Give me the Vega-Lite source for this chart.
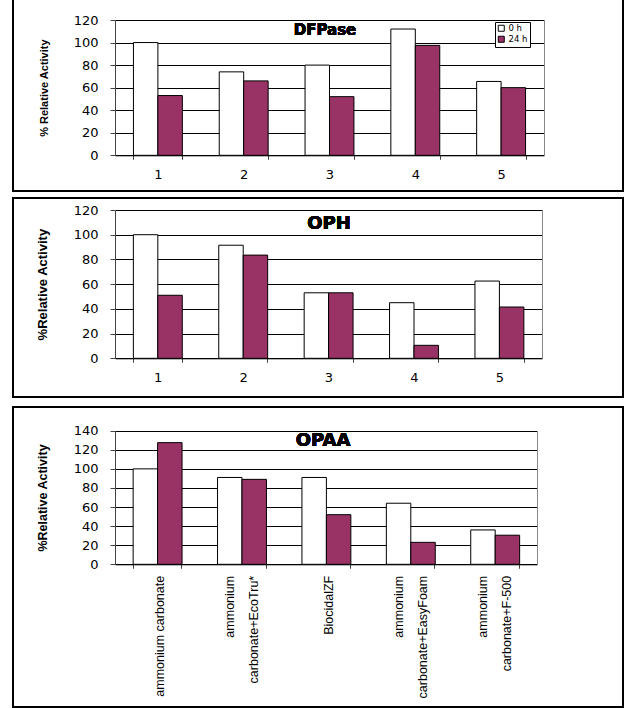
{
  "$schema": "https://vega.github.io/schema/vega-lite/v6.json",
  "padding": {"left": 6, "top": -2, "right": 0, "bottom": 0},
  "background": "white",
  "datasets": {
    "dfpase": [
      {"cat": "1", "time": "0 h", "value": 100},
      {"cat": "1", "time": "24 h", "value": 53},
      {"cat": "2", "time": "0 h", "value": 74},
      {"cat": "2", "time": "24 h", "value": 66},
      {"cat": "3", "time": "0 h", "value": 80},
      {"cat": "3", "time": "24 h", "value": 52},
      {"cat": "4", "time": "0 h", "value": 112},
      {"cat": "4", "time": "24 h", "value": 97.5},
      {"cat": "5", "time": "0 h", "value": 65.5},
      {"cat": "5", "time": "24 h", "value": 60}
    ],
    "oph": [
      {"cat": "1", "time": "0 h", "value": 100},
      {"cat": "1", "time": "24 h", "value": 51},
      {"cat": "2", "time": "0 h", "value": 91.5},
      {"cat": "2", "time": "24 h", "value": 83.5},
      {"cat": "3", "time": "0 h", "value": 53},
      {"cat": "3", "time": "24 h", "value": 53},
      {"cat": "4", "time": "0 h", "value": 45},
      {"cat": "4", "time": "24 h", "value": 10.5},
      {"cat": "5", "time": "0 h", "value": 62.5},
      {"cat": "5", "time": "24 h", "value": 41.5}
    ],
    "opaa": [
      {"cat": "ammonium carbonate", "time": "0 h", "value": 100},
      {"cat": "ammonium carbonate", "time": "24 h", "value": 127.5},
      {"cat": "ammonium carbonate+EcoTru*", "time": "0 h", "value": 91},
      {"cat": "ammonium carbonate+EcoTru*", "time": "24 h", "value": 89},
      {"cat": "BiocidalZF", "time": "0 h", "value": 91},
      {"cat": "BiocidalZF", "time": "24 h", "value": 52},
      {"cat": "ammonium carbonate+EasyFoam", "time": "0 h", "value": 64},
      {"cat": "ammonium carbonate+EasyFoam", "time": "24 h", "value": 23},
      {"cat": "ammonium carbonate+F-500", "time": "0 h", "value": 36},
      {"cat": "ammonium carbonate+F-500", "time": "24 h", "value": 30.5}
    ]
  },
  "spacing": 8,
  "vconcat": [
    {
      "spacing": 5,
      "vconcat": [
        {
          "width": 610,
          "height": 192,
          "data": {"name": "dfpase"},
          "resolve": {"axis": {"y": "independent"}},
          "layer": [
            {
              "mark": {"type": "bar", "stroke": "black", "strokeWidth": 1},
              "encoding": {
                "x": {
                  "field": "cat", "type": "nominal", "sort": null,
                  "scale": {"range": [102, 531], "paddingInner": 0.43, "paddingOuter": 0.215},
                  "axis": {"title": null, "offset": -35.7, "labelAngle": 0, "tickBand": "extent", "tickSize": 4, "labelPadding": 9, "grid": false}
                },
                "xOffset": {"field": "time", "type": "nominal", "sort": ["0 h", "24 h"]},
                "y": {
                  "field": "value", "type": "quantitative",
                  "scale": {"domain": [0, 120], "range": [156.3, 21], "nice": false},
                  "axis": {"title": "% Relative Activity", "offset": -102, "values": [0, 20, 40, 60, 80, 100, 120], "grid": true, "titleFontSize": 11}
                },
                "fill": {
                  "field": "time", "type": "nominal",
                  "scale": {"domain": ["0 h", "24 h"], "range": ["white", "#993366"]},
                  "legend": {"orient": "none", "legendX": 482, "legendY": 23, "title": null}
                }
              }
            },
            {
              "mark": {"type": "text", "text": "DFPase", "font": "DejaVu Sans", "fontWeight": "bold", "fontSize": 15, "dx": 7, "baseline": "middle"},
              "encoding": {
                "y": {"datum": 111.4, "type": "quantitative",
                  "axis": {"orient": "right", "offset": -79, "labels": false, "ticks": false, "grid": false, "title": null, "domainColor": "#888888"}}
              }
            }
          ]
        },
        {
          "width": 610,
          "height": 199,
          "data": {"name": "oph"},
          "resolve": {"axis": {"y": "independent"}},
          "layer": [
            {
              "mark": {"type": "bar", "stroke": "black", "strokeWidth": 1},
              "encoding": {
                "x": {
                  "field": "cat", "type": "nominal", "sort": null,
                  "scale": {"range": [102, 529], "paddingInner": 0.43, "paddingOuter": 0.215},
                  "axis": {"title": null, "offset": -38.7, "labelAngle": 0, "tickBand": "extent", "tickSize": 4, "labelPadding": 9, "grid": false}
                },
                "xOffset": {"field": "time", "type": "nominal", "sort": ["0 h", "24 h"]},
                "y": {
                  "field": "value", "type": "quantitative",
                  "scale": {"domain": [0, 120], "range": [160.3, 12], "nice": false},
                  "axis": {"title": "%Relative Activity", "offset": -102, "values": [0, 20, 40, 60, 80, 100, 120], "grid": true, "titleFontSize": 13}
                },
                "fill": {
                  "field": "time", "type": "nominal",
                  "scale": {"domain": ["0 h", "24 h"], "range": ["white", "#993366"]},
                  "legend": {"orient": "none", "legendX": 482, "legendY": 14, "title": null}
                }
              }
            },
            {
              "mark": {"type": "text", "text": "OPH", "font": "DejaVu Sans", "fontWeight": "bold", "fontSize": 18, "dx": 11, "baseline": "middle"},
              "encoding": {
                "y": {"datum": 108.7, "type": "quantitative",
                  "axis": {"orient": "right", "offset": -81, "labels": false, "ticks": false, "grid": false, "title": null, "domainColor": "#888888"}}
              }
            }
          ]
        }
      ]
    },
    {
      "width": 610,
      "height": 300,
      "data": {"name": "opaa"},
      "resolve": {"axis": {"y": "independent"}},
      "layer": [
        {
          "mark": {"type": "bar", "stroke": "black", "strokeWidth": 1},
          "encoding": {
            "x": {
              "field": "cat", "type": "nominal", "sort": null,
              "scale": {"range": [102, 524], "paddingInner": 0.43, "paddingOuter": 0.215},
              "axis": {"title": null, "offset": -142.7, "labelAngle": -90, "labelAlign": "right", "labelBaseline": "middle", "tickBand": "extent", "tickSize": 4, "labelPadding": 7, "grid": false,
                "labelFont": "Liberation Sans", "labelFontSize": 12.5, "labelLineHeight": 24, "labelLimit": 0,
                "labelOffset": {"condition": {"test": "indexof(datum.label, '+') > 0", "value": -12}, "value": 2},
                "labelExpr": "indexof(datum.label, '+') > 0 ? ['ammonium' + (indexof(datum.label, 'EcoTru') > 0 ? '\u00a0\u00a0\u00a0\u00a0\u00a0\u00a0' : indexof(datum.label, 'EasyFoam') > 0 ? '\u00a0\u00a0\u00a0\u00a0\u00a0\u00a0\u00a0\u00a0' : '\u00a0\u00a0\u00a0\u00a0\u00a0'), substring(datum.label, 9)] : datum.label"}
            },
            "xOffset": {"field": "time", "type": "nominal", "sort": ["0 h", "24 h"]},
            "y": {
              "field": "value", "type": "quantitative",
              "scale": {"domain": [0, 140], "range": [157.3, 23.7], "nice": false},
              "axis": {"title": "%Relative Activity", "offset": -102, "values": [0, 20, 40, 60, 80, 100, 120, 140], "grid": true, "titleFontSize": 12.5}
            },
            "fill": {
              "field": "time", "type": "nominal",
              "scale": {"domain": ["0 h", "24 h"], "range": ["white", "#993366"]},
              "legend": {"orient": "none", "legendX": 478, "legendY": 25, "title": null}
            }
          }
        },
        {
          "mark": {"type": "text", "text": "OPAA", "font": "DejaVu Sans", "fontWeight": "bold", "fontSize": 18, "dx": 5, "baseline": "middle"},
          "encoding": {
            "y": {"datum": 129.2, "type": "quantitative",
              "axis": {"orient": "right", "offset": -86, "labels": false, "ticks": false, "grid": false, "title": null, "domainColor": "#888888"}}
          }
        }
      ]
    }
  ],
  "config": {
    "view": {"stroke": "black", "strokeWidth": 2},
    "axis": {
      "labelFont": "DejaVu Sans", "labelFontSize": 13, "labelColor": "black",
      "titleFont": "Liberation Sans", "titleFontWeight": "bold", "titleColor": "black",
      "domainColor": "#444444", "tickColor": "#444444", "gridColor": "black", "gridOpacity": 1, "gridWidth": 1
    },
    "axisY": {"tickSize": 5, "labelPadding": 12, "titlePadding": 24},
    "axisX": {"domainColor": "black", "tickColor": "#444444"},
    "legend": {
      "strokeColor": "black", "fillColor": "white", "padding": 2, "cornerRadius": 0,
      "labelFont": "DejaVu Sans", "labelFontSize": 8.5, "labelColor": "black", "labelOffset": 3,
      "symbolType": "square", "symbolSize": 36, "symbolStrokeColor": "black", "symbolStrokeWidth": 1, "rowPadding": 0
    }
  }
}
